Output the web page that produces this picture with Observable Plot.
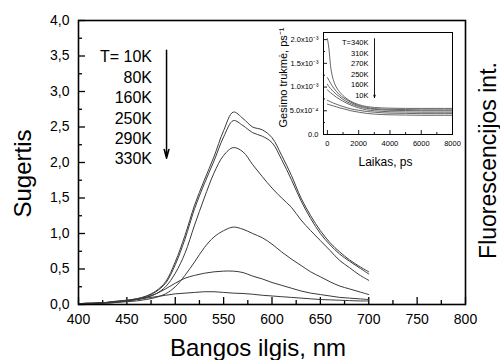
<!DOCTYPE html>
<html>
<head>
<meta charset="utf-8">
<script src="https://cdn.jsdelivr.net/npm/d3@7"></script>
<script src="https://cdn.jsdelivr.net/npm/@observablehq/plot@0.6"></script>
<style>
  body { margin: 0; background: #fff; }
  #chart { position: relative; width: 500px; height: 360px; font-family: "Liberation Sans", Arial, sans-serif; }
  #chart svg { position: absolute; }
</style>
</head>
<body>
<div id="chart"></div>
<script>
// Absorption spectra (main panel)
const wavelengths = [400,410,420,430,440,450,460,470,480,490,500,510,520,530,540,550,560,570,580,590,600,610,620,630,640,650,660,670,680,690,700];
const abs10K  = [0.01,0.02,0.02,0.03,0.05,0.06,0.08,0.12,0.19,0.32,0.60,0.97,1.40,1.75,2.08,2.45,2.71,2.62,2.50,2.46,2.35,2.10,1.82,1.50,1.25,1.04,0.87,0.74,0.63,0.54,0.46];
const abs80K  = [0.01,0.02,0.02,0.03,0.04,0.06,0.08,0.11,0.18,0.30,0.56,0.92,1.35,1.70,2.02,2.36,2.59,2.52,2.42,2.37,2.28,2.04,1.76,1.46,1.21,1.00,0.84,0.71,0.61,0.52,0.43];
const abs160K = [0.01,0.01,0.02,0.03,0.04,0.05,0.07,0.10,0.15,0.25,0.44,0.72,1.12,1.50,1.85,2.10,2.21,2.15,1.97,1.80,1.64,1.50,1.37,1.19,1.04,0.90,0.76,0.62,0.52,0.42,0.34];
const abs250K = [0.01,0.01,0.02,0.02,0.03,0.04,0.05,0.07,0.10,0.15,0.25,0.41,0.60,0.80,0.95,1.04,1.09,1.06,1.00,0.94,0.85,0.74,0.64,0.55,0.46,0.39,0.32,0.26,0.22,0.18,0.14];
const abs290K = [0.01,0.01,0.02,0.02,0.03,0.05,0.07,0.10,0.15,0.22,0.30,0.37,0.41,0.44,0.46,0.47,0.47,0.45,0.40,0.36,0.31,0.27,0.23,0.19,0.16,0.14,0.12,0.10,0.09,0.08,0.07];
const abs330K = [0.00,0.01,0.02,0.03,0.04,0.05,0.07,0.09,0.11,0.13,0.15,0.16,0.17,0.18,0.18,0.17,0.16,0.155,0.145,0.13,0.12,0.11,0.10,0.09,0.08,0.07,0.065,0.06,0.055,0.05,0.05];
const spectraTemps = ["10K","80K","160K","250K","290K","330K"];
const spectraSeries = [abs10K, abs80K, abs160K, abs250K, abs290K, abs330K];
const legendLines = ["T= 10K","80K","160K","250K","290K","330K"];

const xMajorTicks = [400,450,500,550,600,650,700,750,800];
const xMinorTicks = [425,475,525,575,625,675,725,775];
const yMajorTicks = [0,0.5,1,1.5,2,2.5,3,3.5,4];
const yMinorTicks = [0.25,0.75,1.25,1.75,2.25,2.75,3.25,3.75];

// Decay rate vs time (inset)
const times = [0,100,200,300,400,600,800,1000,1500,2000,2500,3000,4000,5000,6000,7000,8000];
const rate340K = [2.02,1.80,1.45,1.25,1.13,0.98,0.89,0.82,0.70,0.63,0.59,0.57,0.555,0.55,0.55,0.55,0.55];
const rate310K = [1.20,1.14,1.08,1.03,0.98,0.90,0.83,0.78,0.68,0.61,0.57,0.545,0.53,0.525,0.52,0.52,0.52];
const rate270K = [1.06,1.01,0.97,0.935,0.90,0.84,0.79,0.74,0.65,0.59,0.55,0.53,0.51,0.505,0.50,0.50,0.50];
const rate250K = [0.94,0.91,0.88,0.855,0.83,0.78,0.74,0.70,0.62,0.56,0.52,0.50,0.48,0.475,0.47,0.47,0.47];
const rate160K = [0.72,0.705,0.69,0.675,0.66,0.635,0.61,0.59,0.54,0.51,0.485,0.47,0.45,0.445,0.44,0.44,0.44];
const rate10K  = [0.64,0.63,0.62,0.61,0.60,0.58,0.56,0.545,0.50,0.47,0.445,0.43,0.415,0.41,0.405,0.405,0.405];
const rateTemps = ["340K","310K","270K","250K","160K","10K"];
const rateSeries = [rate340K, rate310K, rate270K, rate250K, rate160K, rate10K]; // units of 1e-3 ps^-1
const insetLegendLines = ["T=340K","310K","270K","250K","160K","10K"];

const insetXTicks = [0,2000,4000,6000,8000];
const insetXMinor = [1000,3000,5000,7000];
const insetYTicks = [0,0.0005,0.001,0.0015,0.002];
const insetYTickLabels = ["0.0","5.0x10\u207B\u2074","1.0x10\u207B\u00B3","1.5x10\u207B\u00B3","2.0x10\u207B\u00B3"];
const insetYMinor = [0.00025,0.00075,0.00125,0.00175];

const spectra = spectraSeries.flatMap((vals, k) =>
  vals.map((v, i) => ({wl: wavelengths[i], v, temp: spectraTemps[k]})));
const rates = rateSeries.flatMap((vals, k) =>
  vals.map((v, i) => ({t: times[i], r: v * 1e-3, temp: rateTemps[k]})));

const font = '"Liberation Sans", Arial, sans-serif';
const ML = 78, MR = 35, MT = 20, MB = 56, W = 500, H = 360;
const FW = W - ML - MR, FH = H - MT - MB;
const comma = d => d.toFixed(1).replace(".", ",");

const main = Plot.plot({
  width: W, height: H,
  marginLeft: ML, marginRight: MR, marginTop: MT, marginBottom: MB,
  x: {domain: [400, 800]},
  y: {domain: [0, 4]},
  style: {fontFamily: font, fontSize: "14px", color: "#000", background: "transparent", overflow: "visible"},
  marks: [
    Plot.ruleX(xMajorTicks, {x: d => d, insetTop: FH - 7, stroke: "#000", strokeWidth: 1.3}),
    Plot.ruleX(xMinorTicks, {x: d => d, insetTop: FH - 4, stroke: "#000", strokeWidth: 1.3}),
    Plot.ruleY(yMajorTicks, {y: d => d, insetRight: FW - 7, stroke: "#000", strokeWidth: 1.3}),
    Plot.ruleY(yMinorTicks, {y: d => d, insetRight: FW - 4, stroke: "#000", strokeWidth: 1.3}),
    Plot.axisX({ticks: xMajorTicks, tickSize: 0, tickPadding: 10, label: null, tickFormat: d => String(d), fontSize: 14}),
    Plot.axisY({ticks: yMajorTicks, tickSize: 0, tickPadding: 9, label: null, tickFormat: comma, fontSize: 14}),
    Plot.line(spectra, {x: "wl", y: "v", z: "temp", curve: "catmull-rom", stroke: "#3a3a3a", strokeWidth: 1}),
    Plot.text([legendLines.join("\n")], {x: 476, y: 2.783, text: d => d, textAnchor: "end", lineAnchor: "middle", lineHeight: 1.275, fontSize: 16, fill: "#000"}),
    Plot.arrow([0], {x1: 491, y1: 3.58, x2: 491, y2: 2.06, stroke: "#000", strokeWidth: 1.5, headLength: 9, headAngle: 30}),
    Plot.text(["Bangos ilgis, nm"], {frameAnchor: "bottom", text: d => d, dx: -14, dy: 44, fontSize: 24, lineAnchor: "middle", textAnchor: "middle"}),
    Plot.text(["Sugertis"], {frameAnchor: "left", text: d => d, rotate: -90, dx: -55, dy: 11, fontSize: 24, lineAnchor: "middle", textAnchor: "middle"}),
    Plot.text(["Fluorescencijos int."], {frameAnchor: "right", text: d => d, rotate: -90, dx: 23, dy: -2, fontSize: 23, lineAnchor: "middle", textAnchor: "middle"}),
    Plot.frame({stroke: "#000", strokeWidth: 1.6})
  ]
});

const IW = 200, IH = 160, IML = 63, IMR = 8, IMT = 12, IMB = 46;
const IFW = IW - IML - IMR, IFH = IH - IMT - IMB;

const inset = Plot.plot({
  width: IW, height: IH,
  marginLeft: IML, marginRight: IMR, marginTop: IMT, marginBottom: IMB,
  x: {domain: [-250, 8000]},
  y: {domain: [0, 0.00215]},
  style: {fontFamily: font, fontSize: "7.5px", color: "#000", background: "transparent", overflow: "visible"},
  marks: [
    Plot.ruleX(insetXTicks, {x: d => d, insetTop: IFH - 4, stroke: "#000", strokeWidth: 0.9}),
    Plot.ruleX(insetXMinor, {x: d => d, insetTop: IFH - 2, stroke: "#000", strokeWidth: 0.9}),
    Plot.ruleY(insetYTicks, {y: d => d, insetRight: IFW - 4, stroke: "#000", strokeWidth: 0.9}),
    Plot.ruleY(insetYMinor, {y: d => d, insetRight: IFW - 2, stroke: "#000", strokeWidth: 0.9}),
    Plot.axisX({ticks: insetXTicks, tickSize: 0, tickPadding: 6, label: null, tickFormat: d => String(d), fontSize: 7.5}),
    Plot.axisY({ticks: insetYTicks, tickSize: 0, tickPadding: 5, label: null, tickFormat: d => insetYTickLabels[insetYTicks.indexOf(d)], fontSize: 7.5}),
    Plot.line(rates, {x: "t", y: "r", z: "temp", curve: "monotone-x", stroke: "#555", strokeWidth: 0.9}),
    Plot.text([insetLegendLines.join("\n")], {x: 2628, y: 0.0014, text: d => d, textAnchor: "end", lineAnchor: "middle", lineHeight: 1.41, fontSize: 7.5, fill: "#000"}),
    Plot.arrow([0], {x1: 3012, y1: 0.00202, x2: 3012, y2: 0.00078, stroke: "#000", strokeWidth: 0.9, headLength: 4, headAngle: 35}),
    Plot.text(["Laikas, ps"], {frameAnchor: "bottom", text: d => d, dx: -2.5, dy: 28, fontSize: 12, lineAnchor: "middle", textAnchor: "middle"}),
    Plot.text(["Gesimo trukmė, ps\u207B\u00B9"], {frameAnchor: "left", text: d => d, rotate: -90, dx: -40, dy: -6, fontSize: 11, lineAnchor: "middle", textAnchor: "middle"}),
    Plot.frame({stroke: "#000", strokeWidth: 1})
  ]
});

const chart = document.getElementById("chart");
main.style.left = "0px"; main.style.top = "0px";
inset.style.left = "260px"; inset.style.top = "20px";
chart.appendChild(main);
chart.appendChild(inset);
</script>
</body>
</html>
